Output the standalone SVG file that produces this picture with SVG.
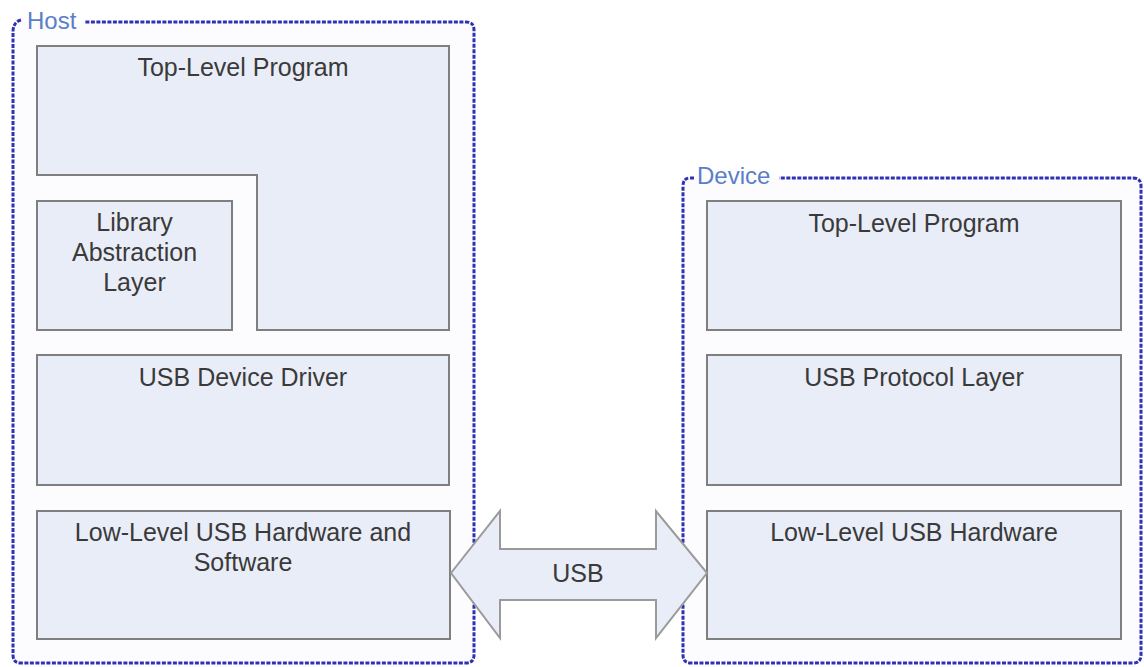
<svg xmlns="http://www.w3.org/2000/svg" width="1144" height="667" viewBox="0 0 1144 667">
<style>
.cont{fill:#fcfcfe;stroke:none;}
.edge{fill:none;stroke:#3030b4;stroke-width:3;stroke-dasharray:4 1.5;}
.box{fill:#e9edf7;stroke:#7f7f7f;stroke-width:2;}
.t{font-family:"Liberation Sans",Arial,sans-serif;font-size:25px;fill:#3a3a3a;text-anchor:middle;}
.lbl{font-family:"Liberation Sans",Arial,sans-serif;font-size:24px;fill:#5a7ec8;}
.arrow{fill:#e9edf7;stroke:#9a9a9a;stroke-width:2;}
</style>
<rect width="1144" height="667" fill="#ffffff"/>
<g id="host">
<path class="cont" d="M13 22 H474 V663 H13 Z"/>
<path class="edge" d="M21 20 Q13 22 13 32 V655 Q13 663 21 663 H466 Q474 663 474 655 V30 Q474 22 466 22 H84"/>
<text class="lbl" x="27" y="29">Host</text>
</g>
<g id="device">
<path class="cont" d="M683 178 H1141 V663 H683 Z"/>
<path class="edge" d="M694 178 H690 Q683 178 683 186 V655 Q683 663 691 663 H1133 Q1141 663 1141 655 V186 Q1141 178 1133 178 H779"/>
<text class="lbl" x="697" y="184">Device</text>
</g>
<g id="host-top-level">
<path class="box" d="M37 46 H449 V330 H257 V175 H37 Z"/>
<text class="t" x="243" y="76">Top-Level Program</text>
</g>
<g id="library">
<rect class="box" x="37" y="201" width="195" height="129"/>
<text class="t" x="134.5" y="231">Library</text>
<text class="t" x="134.5" y="261">Abstraction</text>
<text class="t" x="134.5" y="291">Layer</text>
</g>
<g id="usb-device-driver">
<rect class="box" x="37" y="355" width="412" height="130"/>
<text class="t" x="243" y="386">USB Device Driver</text>
</g>
<g id="host-low-level">
<rect class="box" x="37" y="511" width="413" height="128"/>
<text class="t" x="243" y="541">Low-Level USB Hardware and</text>
<text class="t" x="243" y="571">Software</text>
</g>
<g id="device-top-level">
<rect class="box" x="707" y="201" width="414" height="129"/>
<text class="t" x="914" y="232">Top-Level Program</text>
</g>
<g id="usb-protocol-layer">
<rect class="box" x="707" y="355" width="414" height="130"/>
<text class="t" x="914" y="386">USB Protocol Layer</text>
</g>
<g id="device-low-level">
<rect class="box" x="707" y="511" width="414" height="128"/>
<text class="t" x="914" y="541">Low-Level USB Hardware</text>
</g>
<g id="connectors">
<g id="usb-link">
<polygon class="arrow" points="451,573 500,511 500,549 656,549 656,511 707,573 656,638 656,600 500,600 500,638"/>
<text class="t" x="578" y="582">USB</text>
</g>
</g>
</svg>
